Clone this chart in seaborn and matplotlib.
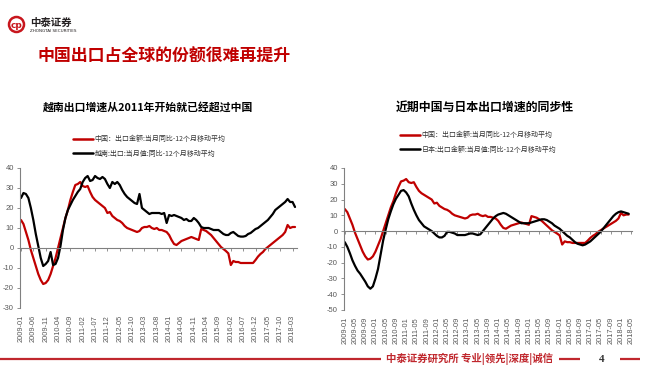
import numpy as np
import pandas as pd
import matplotlib
matplotlib.use("Agg")
import matplotlib.pyplot as plt
from matplotlib.patches import Circle
from matplotlib.lines import Line2D
import seaborn as sns

# ---------------- data ----------------
months = pd.period_range("2009-01", periods=112, freq="M").strftime("%Y-%m").tolist()

china = [14, 12, 8, 4, -1, -5, -9, -13, -16, -18,
         -17.5, -16, -13, -9, -5, 0, 5, 10, 15, 19,
         24, 28, 31.5, 32, 33, 31, 30.5, 31, 28, 25.5,
         24, 23, 22, 21, 20, 17.5, 18, 16, 15, 14,
         13.5, 12.5, 11, 10, 9.5, 9, 8.5, 8, 8.5, 10,
         10.5, 10.5, 11, 10, 9.5, 10, 9, 9, 8.5, 8,
         6.5, 4, 2, 1.5, 2.5, 3.5, 4, 4.5, 5, 5.5,
         5, 4.5, 4, 9.5, 9, 8.5, 7.5, 6.5, 5, 3.5,
         2, 0.5, -0.5, -1.5, -2.7, -8.5, -6.5, -7, -7, -7.5,
         -7.5, -7.5, -7.5, -7.5, -7.5, -6, -4.3, -3, -2, -0.5,
         0.5, 1.5, 2.5, 3.5, 4.5, 5.5, 6.5, 8, 11.5, 10,
         10.5, 10.5]

vietnam = [25, 27.5, 27, 25, 20, 14, 7, 1, -5, -9,
           -8, -6.5, -2, -8.5, -8, -5, 1, 9, 15, 19,
           21.5, 24, 26, 28, 29.5, 33, 35, 36, 33.5, 34,
           36, 35, 34.5, 35.5, 34.5, 32, 30, 33, 32, 33,
           31.5, 29, 27, 25.5, 24.5, 23.5, 22.5, 22, 27, 20,
           19, 18, 17, 17.5, 17.5, 17.5, 17.5, 17, 17.5, 12.5,
           16.5, 16, 16.5, 16, 15.5, 15, 14, 14.5, 13.5, 13.5,
           15, 14, 12.5, 10.5, 10, 10, 10, 9.5, 9, 9,
           9, 8, 7, 6.5, 6.5, 7.5, 8, 7, 6, 5.7,
           5.7, 6, 7, 7.5, 8.5, 9.5, 10, 11, 12, 13,
           14, 15.5, 17, 19, 20, 21, 22, 23, 24.5, 23,
           23, 20.5]

japan = [-7, -10, -14, -18.5, -22, -25, -27, -29.5, -32, -35,
         -36.5, -35, -30, -24, -15, -6, 1, 7.5, 12.5, 17,
         20.5, 23, 25.5, 26, 24.5, 22, 17.5, 13.5, 10, 7,
         5, 3, 2, 1, 0, -1.5, -3, -4, -4, -3,
         -0.5, -0.5, -1, -1.5, -2.5, -2.5, -2.5, -2.5, -2, -1.5,
         -1.5, -2, -2.5, -2, 0, 2, 4, 6, 8, 9.5,
         10.5, 11, 11.5, 11, 10, 9, 8, 7, 6, 5,
         5, 5, 5, 5.5, 6, 6.5, 7, 7.5, 7.5, 7,
         6, 5, 3.5, 2.5, 1.5, 0, -1.5, -3, -4, -5.5,
         -7, -8, -8.5, -9, -8.5, -7.5, -6.5, -5, -3.5, -2,
         -0.5, 1.5, 3.5, 5.5, 7.5, 9.5, 11, 12, 12.5, 12,
         11.5, 11]

label_cn = "中国：出口金额:当月同比-12个月移动平均"
label_vn = "越南:出口:当月值:同比-12个月移动平均"
label_jp = "日本:出口金额:当月值:同比-12个月移动平均"

left_ticks = list(range(0, 111, 5))
right_ticks = list(range(0, 113, 4))
right_tick_labels = pd.period_range("2009-01", periods=113, freq="M").strftime("%Y-%m").tolist()

# ---------------- style ----------------
sns.set_theme(style="white")
plt.rcParams["font.family"] = ["Noto Sans CJK SC", "DejaVu Sans"]
plt.rcParams["axes.unicode_minus"] = False

RED = "#C00000"
GREY = "#808080"
TXT = "#595959"

W, H = 653, 379
fig = plt.figure(figsize=(W / 100, H / 100), dpi=100)
fig.patch.set_facecolor("white")


def fx(px):
    return px / W


def fy(py):
    return 1 - py / H


def make_panel(rect, s1, s2, lab1, lab2, yticks, ylim, xlim, ticks, ticklabels, legend_xy):
    ax = fig.add_axes(rect)
    n = len(s1)
    df = pd.DataFrame({
        "m": list(range(n)) * 2,
        "v": list(s1) + list(s2),
        "s": [lab1] * n + [lab2] * n,
    })
    sns.lineplot(data=df, x="m", y="v", hue="s", hue_order=[lab1, lab2],
                 palette=[RED, "black"], linewidth=1.6, ax=ax, legend=False)
    # draw black after red? reference: black on top in left, mixed; keep order
    ax.set_xlim(*xlim)
    ax.set_ylim(*ylim)
    ax.set_yticks(yticks)
    ax.set_yticklabels([str(t) for t in yticks])
    ax.set_xlabel("")
    ax.set_ylabel("")
    for sp in ["top", "right"]:
        ax.spines[sp].set_visible(False)
    ax.spines["left"].set_color(GREY)
    ax.spines["left"].set_linewidth(0.8)
    ax.spines["bottom"].set_position(("data", 0))
    ax.spines["bottom"].set_color(GREY)
    ax.spines["bottom"].set_linewidth(0.8)
    ax.set_xticks(ticks)
    ax.tick_params(axis="x", direction="out", length=2.5, width=0.6, color=GREY,
                   labelbottom=False, bottom=True)
    ax.tick_params(axis="y", direction="out", length=2.5, width=0.6, color=GREY,
                   labelsize=5.5, labelcolor=TXT, pad=2, left=True)
    sec = ax.secondary_xaxis("bottom")
    sec.set_xticks(ticks)
    sec.set_xticklabels(ticklabels, rotation=90, fontsize=5.3, color=TXT,
                        family=["Liberation Sans", "DejaVu Sans"])
    sec.tick_params(length=0, pad=5)
    sec.spines["bottom"].set_visible(False)
    for t in ax.get_yticklabels():
        t.set_family(["Liberation Sans", "DejaVu Sans"])
    handles = [Line2D([], [], color=RED, lw=1.8), Line2D([], [], color="black", lw=1.8)]
    ax.legend(handles, [lab1, lab2], loc="upper left",
              bbox_to_anchor=legend_xy, bbox_transform=fig.transFigure,
              frameon=False, fontsize=5, handlelength=2.9, handletextpad=0.2,
              labelspacing=0.95, borderpad=0, borderaxespad=0,
              labelcolor="#333333")
    return ax


# left panel
make_panel([fx(20), fy(308), fx(297) - fx(20), fy(168) - fy(308)],
           china, vietnam, label_cn, label_vn,
           list(range(-30, 41, 10)), (-30, 40), (-0.4, 111.8),
           left_ticks, [months[i] for i in left_ticks],
           (fx(73), fy(135)))

# right panel
make_panel([fx(344), fy(310), fx(632) - fx(344), fy(168) - fy(310)],
           china, japan, label_cn, label_jp,
           list(range(-50, 41, 10)), (-50, 40), (-0.3, 112.3),
           right_ticks, [right_tick_labels[i] for i in right_ticks],
           (fx(400), fy(131)))

# ---------------- header ----------------
logo_ax = fig.add_axes([0, 0, 1, 1], zorder=-1)
logo_ax.set_xlim(0, W)
logo_ax.set_ylim(H, 0)
logo_ax.axis("off")
logo_ax.add_patch(Circle((16.5, 24.5), 7.5, fill=False, ec="#C8161D", lw=1.8))
logo_ax.text(16.5, 25, "cp", color="#C8161D", fontsize=6.5, fontweight="bold",
             ha="center", va="center", family=["DejaVu Sans"])
# footer lines
for x0, x1 in [(0, 381), (559, 580), (620, 640)]:
    logo_ax.plot([x0, x1], [359, 359], color="#C0272D", lw=1.6, solid_capstyle="butt")

fig.text(fx(30), fy(22.5), "中泰证券", fontsize=7.5, fontweight="bold", color="#231F20",
         va="center", ha="left")
fig.text(fx(30), fy(30.5), "ZHONGTAI SECURITIES", fontsize=3, color="#231F20",
         va="center", ha="left", family=["DejaVu Sans"])
fig.text(fx(38), fy(57), "中国出口占全球的份额很难再提升", fontsize=12.2, fontweight="bold",
         color=RED, va="center", ha="left")
fig.text(fx(43), fy(107), "越南出口增速从2011年开始就已经超过中国", fontsize=7.8,
         fontweight="bold", color="black", va="center", ha="left")
fig.text(fx(396), fy(107), "近期中国与日本出口增速的同步性", fontsize=8.6,
         fontweight="bold", color="black", va="center", ha="left")

fig.text(fx(470), fy(359), "中泰证券研究所 专业|领先|深度|诚信", fontsize=7.5,
         fontweight="bold", color="#C0272D", va="center", ha="center")
fig.text(fx(602), fy(360), "4", fontsize=8, fontweight="bold", color="#333333",
         va="center", ha="center", family=["Liberation Serif", "DejaVu Serif"])

fig.savefig("out.png", dpi=100, facecolor="white")
